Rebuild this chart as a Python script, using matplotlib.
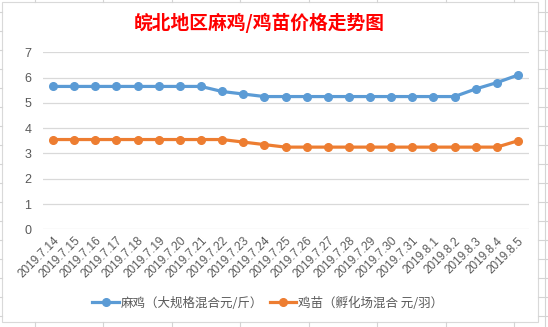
import matplotlib
matplotlib.use('Agg')
import matplotlib.pyplot as plt
from matplotlib.patches import Rectangle
from matplotlib.lines import Line2D

plt.rcParams['font.family'] = ['Noto Sans CJK SC', 'DejaVu Sans']

# 数据
dates = ['2019.7.14', '2019.7.15', '2019.7.16', '2019.7.17', '2019.7.18', '2019.7.19',
         '2019.7.20', '2019.7.21', '2019.7.22', '2019.7.23', '2019.7.24', '2019.7.25',
         '2019.7.26', '2019.7.27', '2019.7.28', '2019.7.29', '2019.7.30', '2019.7.31',
         '2019.8.1', '2019.8.2', '2019.8.3', '2019.8.4', '2019.8.5']
maji = [5.65, 5.65, 5.65, 5.65, 5.65, 5.65, 5.65, 5.65, 5.45, 5.35, 5.25, 5.25,
        5.25, 5.25, 5.25, 5.25, 5.25, 5.25, 5.25, 5.25, 5.55, 5.8, 6.1]
jimiao = [3.55, 3.55, 3.55, 3.55, 3.55, 3.55, 3.55, 3.55, 3.55, 3.45, 3.35, 3.25,
          3.25, 3.25, 3.25, 3.25, 3.25, 3.25, 3.25, 3.25, 3.25, 3.25, 3.5]
label_maji = '麻鸡（大规格混合元/斤）'
label_jimiao = '鸡苗（孵化场混合 元/羽）'
title = '皖北地区麻鸡/鸡苗价格走势图'

W, H = 548, 327
fig = plt.figure(figsize=(W / 100, H / 100), dpi=100, facecolor='white')

# 背景表格线（Excel 单元格）
grid_c = '#D4D4D4'
for x in [35, 103, 172, 240, 309, 377, 446, 514]:
    fig.add_artist(Line2D([x / W, x / W], [1 - 2 / H, 1], color=grid_c, lw=0.8))
    fig.add_artist(Line2D([x / W, x / W], [0, 1 - 322 / H], color=grid_c, lw=0.8))
for y in range(12, 327, 19):
    fig.add_artist(Line2D([0, 2 / W], [1 - y / H, 1 - y / H], color=grid_c, lw=0.8))
    fig.add_artist(Line2D([538 / W, 1], [1 - y / H, 1 - y / H], color=grid_c, lw=0.8))
fig.add_artist(Line2D([545 / W, 545 / W], [0, 1], color=grid_c, lw=0.8))

# 图表边框
fig.add_artist(Rectangle((2 / W, 1 - 322 / H), 536 / W, 320 / H, transform=fig.transFigure,
                         facecolor='white', edgecolor='#D9D9D9', lw=0.8, zorder=0))

ax = fig.add_axes([42.5 / W, 1 - 229.3 / H, 486 / W, 177 / H])
ax.set_facecolor('none')
x = list(range(len(dates)))
ax.plot(x, maji, color='#5B9BD5', lw=2.3, marker='o', ms=5.5, label=label_maji, zorder=3)
ax.plot(x, jimiao, color='#ED7D31', lw=2.3, marker='o', ms=5.5, label=label_jimiao, zorder=3)

ax.set_xlim(-0.5, len(dates) - 0.5)
ax.set_ylim(0, 7)
ax.set_yticks(range(0, 8))
ax.yaxis.grid(True, color='#D9D9D9', lw=0.9)
ax.set_axisbelow(True)
for s in ax.spines.values():
    s.set_visible(False)
ax.tick_params(axis='both', length=0, colors='#595959')
ax.tick_params(axis='y', pad=8, labelsize=9)
ax.set_xticks(x)
ax.set_xticklabels(dates, rotation=45, ha='right', rotation_mode='anchor',
                   fontsize=8.5, family=['Liberation Sans', 'DejaVu Sans'], color='#595959')
ax.tick_params(axis='x', pad=4)
for lab in ax.get_yticklabels():
    lab.set_family(['Liberation Sans', 'DejaVu Sans'])

fig.text(259 / W, 1 - 23 / H, title, ha='center', va='center', color='#FF0000',
         fontsize=13.5, fontweight='bold')

fig.legend(loc='center', bbox_to_anchor=(268 / W, 1 - 303 / H), ncol=2, frameon=False,
           fontsize=9, handlelength=2.1, columnspacing=0.5, handletextpad=0.2,
           labelcolor='#595959')

fig.savefig('out.png', dpi=100)
